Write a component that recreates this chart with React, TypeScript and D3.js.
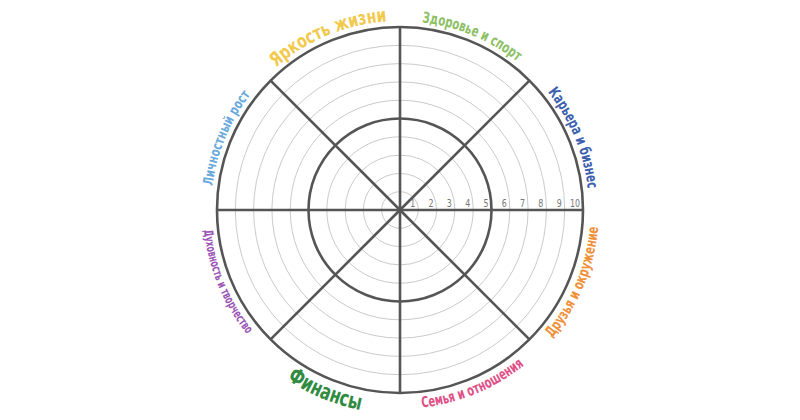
import React from 'react';
import * as d3 from 'd3';

const categories = [
  'Здоровье и спорт',
  'Карьера и бизнес',
  'Друзья и окружение',
  'Семья и отношения',
  'Финансы',
  'Духовность и творчество',
  'Личностный рост',
  'Яркость жизни',
];
const colors = ['#8cc063', '#3d5fae', '#f0913a', '#df4f86', '#2e8b3f', '#9b56b6', '#6aa9dc', '#f2c94c'];
const fontSizes = [15, 15, 15, 15, 22, 12.5, 14, 19];
const textLengths = [104, 106, 122, 112, 80, 114, 100, 122];
const levels = [1, 2, 3, 4, 5, 6, 7, 8, 9, 10];

const width = 800;
const height = 420;
const cx = 400;
const cy = 210;
const R = 183;
const font = "'Liberation Sans Narrow', 'DejaVu Sans Condensed', 'Roboto', sans-serif";

const App = () => {
  const r = d3.scaleLinear().domain([0, 10]).range([0, R]);
  const angle = d3.scaleLinear().domain([0, categories.length]).range([0, 2 * Math.PI]);
  const pt = (a: number, rad: number) => [cx + rad * Math.sin(a), cy - rad * Math.cos(a)];

  const labelPath = (i: number, fs: number) => {
    const a0 = angle(i);
    const a1 = angle(i + 1);
    const mid = (a0 + a1) / 2;
    const bottom = mid > Math.PI / 2 && mid < (3 * Math.PI) / 2;
    if (!bottom) {
      const rad = R + 6;
      const s = pt(a0, rad);
      const e = pt(a1, rad);
      return `M${s[0]},${s[1]} A${rad},${rad} 0 0 1 ${e[0]},${e[1]}`;
    }
    const rad = R + 5 + fs * 0.72;
    const s = pt(a1, rad);
    const e = pt(a0, rad);
    return `M${s[0]},${s[1]} A${rad},${rad} 0 0 0 ${e[0]},${e[1]}`;
  };

  return (
    <svg width={width} height={height} style={{ display: 'block', position: 'absolute', left: 0, top: 0 }}>
      <rect width={width} height={height} fill="#fff" />
      {levels.map((l) => (
        <circle key={l} cx={cx} cy={cy} r={r(l)} fill="none"
          stroke={l % 5 === 0 ? '#555' : '#bdbdbd'} strokeWidth={l % 5 === 0 ? 2.6 : 0.8} />
      ))}
      {categories.map((c, i) => {
        const e = pt(angle(i), R);
        return <line key={c} x1={cx} y1={cy} x2={e[0]} y2={e[1]} stroke="#555" strokeWidth={2.6} />;
      })}
      {levels.map((l) => (
        <text key={'t' + l} x={cx + r(l) - 3} y={207} textAnchor="end" fontSize={11}
          fontFamily={font} fill="#777" transform={`translate(${cx + r(l) - 3},207) scale(0.8,1) translate(${-(cx + r(l) - 3)},-207)`}>{l}</text>
      ))}
      <defs>
        {categories.map((c, i) => (
          <path key={c} id={'lp' + i} d={labelPath(i, fontSizes[i])} />
        ))}
      </defs>
      {categories.map((c, i) => (
        <text key={c} fontFamily={font} fontWeight="bold" fontSize={fontSizes[i]} fill={colors[i]}>
          <textPath href={'#lp' + i} startOffset="50%" textAnchor="middle"
            textLength={textLengths[i]} lengthAdjust="spacingAndGlyphs">{c}</textPath>
        </text>
      ))}
    </svg>
  );
};

export default App;
